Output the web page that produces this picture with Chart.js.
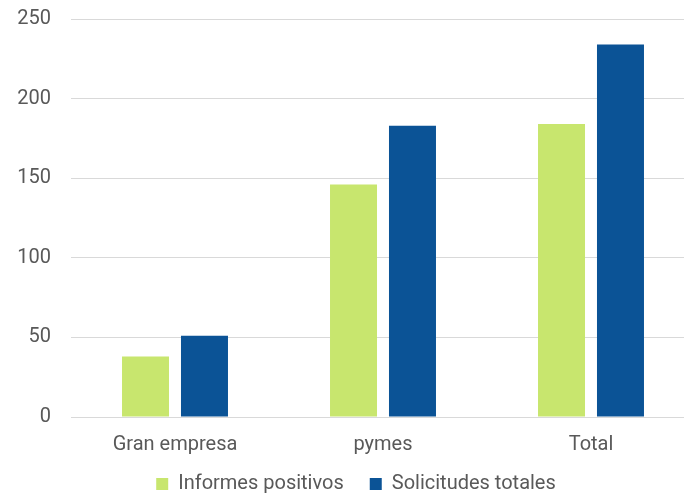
<!DOCTYPE html>
<html>
<head>
<meta charset="utf-8">
<script src="https://cdn.jsdelivr.net/npm/chart.js@4/dist/chart.umd.min.js"></script>
<style>
    html, body { margin: 0; padding: 0; background: #fff; overflow: hidden; }
    /* the original chart is wider than the picture and gets cut at the right */
    #wrap { width: 726px; height: 493px; }
</style>
</head>
<body>
<div id="wrap"><canvas id="chart"></canvas></div>
<script>
    const categories = ['Gran empresa', 'pymes', 'Total'];
    const informesPositivos = [38, 146, 184];
    const solicitudesTotales = [51, 183, 234];
    const yTicks = [0, 50, 100, 150, 200, 250];

    const textColor = '#595959';
    const font = { family: 'Roboto', size: 20 };

    new Chart(document.getElementById('chart').getContext('2d'), {
        type: 'bar',
        data: {
            labels: categories,
            datasets: [
                {
                    label: 'Informes positivos',
                    data: informesPositivos,
                    backgroundColor: '#c8e66e',
                },
                {
                    label: 'Solicitudes totales',
                    data: solicitudesTotales,
                    backgroundColor: '#0b5396',
                },
            ],
        },
        options: {
            responsive: true,
            maintainAspectRatio: false,
            animation: false,
            layout: { padding: { top: 19, right: 31, bottom: -11, left: 17 } },
            datasets: {
                bar: { categoryPercentage: 0.567, barPercentage: 0.797 },
            },
            scales: {
                x: {
                    grid: { display: false },
                    border: { display: false },
                    afterFit(scale) {
                        scale.height = 55;
                    },
                    ticks: {
                        color: textColor,
                        font,
                        padding: 8,
                    },
                },
                y: {
                    min: 0,
                    max: 250,
                    grid: { color: '#d9d9d9', drawTicks: false },
                    border: { display: false },
                    afterBuildTicks(axis) {
                        axis.ticks = yTicks.map((v) => ({ value: v }));
                    },
                    afterFit(scale) {
                        scale.width = 54;
                        scale.paddingTop = 0;
                        scale.paddingBottom = 0;
                    },
                    ticks: {
                        color: textColor,
                        font,
                        padding: 20,
                    },
                },
            },
            plugins: {
                legend: {
                    position: 'bottom',
                    labels: {
                        color: textColor,
                        font,
                        boxWidth: 12,
                        boxHeight: 12,
                        padding: 2,
                        // blank item between the two entries, for the wider gap
                        generateLabels(chart) {
                            const items = Chart.defaults.plugins.legend.labels.generateLabels(chart);
                            items.splice(1, 0, {
                                text: '',
                                fillStyle: 'rgba(0,0,0,0)',
                                strokeStyle: 'rgba(0,0,0,0)',
                                lineWidth: 0,
                                hidden: false,
                            });
                            return items;
                        },
                    },
                },
                tooltip: { enabled: false },
            },
        },
    });
</script>
</body>
</html>
